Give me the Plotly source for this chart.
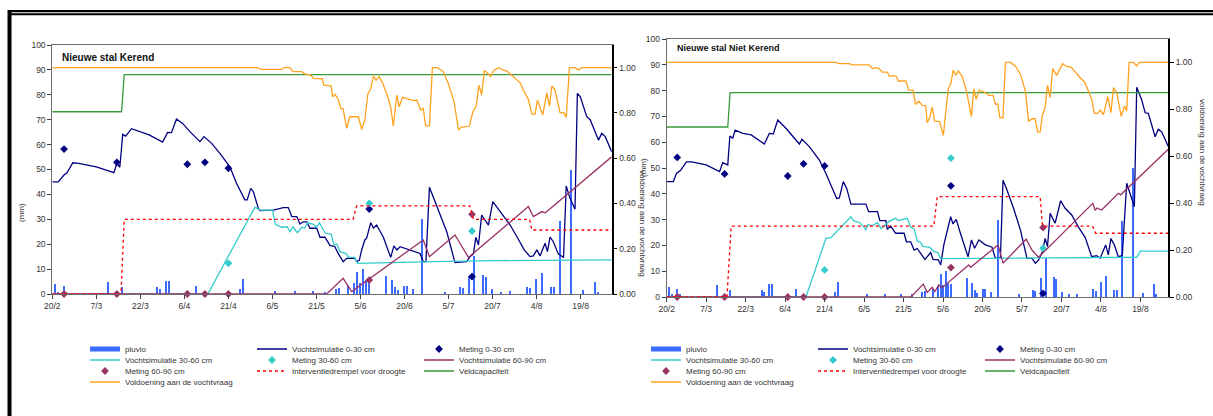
import plotly.graph_objects as go

W, H = 1213, 416
FONT = "Liberation Sans, Arial, sans-serif"
TXT = "#333333"

# ---------------------------------------------------------------
# Time axis: days since 20 February, labelled every 15 days
# ---------------------------------------------------------------
tick_dagen = [0, 15, 30, 45, 60, 75, 90, 105, 120, 135, 150, 165, 180]
tick_labels = ["20/2", "7/3", "22/3", "6/4", "21/4", "6/5", "21/5",
               "5/6", "20/6", "5/7", "20/7", "4/8", "19/8"]
laatste_dag = 190.6

# Rainfall (mm), shared by both fields: (day, mm)
pluvio = [(1, 4.0), (2, 1.0), (4, 3.2), (5, 1.0), (19, 4.7), (24, 2.9), (36, 2.7),
          (37, 1.9), (39, 5.2), (40, 5.2), (49, 3.2), (64, 1.9), (65, 6.0), (76, 1.3),
          (83, 1.1), (89, 1.1), (93, 1.0), (97, 1.9), (98, 2.3), (101, 3.2), (103, 4.3),
          (104, 9.0), (105, 4.5), (106, 10.2), (107, 5.6), (108, 4.9), (114, 7.2),
          (116, 5.6), (117, 2.7), (118, 1.6), (120, 3.2), (121, 3.2), (123, 1.9),
          (126, 30.0), (134, 1.0), (139, 2.8), (140, 2.5), (142, 7.4), (144, 15.2),
          (147, 7.6), (148, 6.8), (150, 1.9), (153, 1.0), (156, 1.3), (162, 3.0),
          (163, 2.3), (165, 6.0), (167, 8.3), (170, 2.7), (171, 2.7), (173, 29.5),
          (177, 49.9), (181, 1.7), (185, 5.0), (186, 1.0)]

# Measurement days and measured moisture (mm)
meet_dagen = [4, 22, 46, 52, 60, 108, 143]

# ---------------------------------------------------------------
# Nieuwe stal Kerend
# ---------------------------------------------------------------
kerend_0_30 = [(0, 45.0), (2, 45.0), (4, 47.8), (5, 48.7), (7, 52.7), (9, 52.5), (15, 51.1),
               (21, 48.7), (22, 52.5), (23, 50.9), (24, 64.1), (25, 63.4), (27, 66.4),
               (29, 65.5), (33, 63.9), (37.6, 61.0), (39.3, 64.9), (40.6, 64.8), (42.3, 70.3),
               (44.4, 68.5), (46.9, 65.2), (50.3, 61.2), (51.7, 63.2), (54.3, 60.5),
               (57.1, 56.5), (60.5, 51.1), (62.8, 44.4), (65.6, 37.8), (66.4, 37.8),
               (67.6, 42.4), (68.5, 41.1), (70.2, 34.4), (70.7, 33.5), (75.3, 33.7),
               (78.7, 34.7), (80.4, 34.7), (81.6, 31.1), (83.3, 31.1), (84.4, 28.1),
               (85.5, 29.0), (86.7, 29.0), (87.8, 26.4), (90.1, 26.4), (91.2, 22.8),
               (92.9, 22.8), (94.6, 19.5), (96.3, 19.0), (97.4, 16.3), (99.1, 13.0),
               (100.3, 14.3), (103.1, 14.3), (103.7, 13.0), (104.6, 13.5), (105.4, 17.7),
               (106.5, 21.7), (107.1, 22.4), (108.5, 28.6), (109.4, 26.4), (110.5, 27.7),
               (112.8, 22.8), (114.1, 19.0), (115.3, 14.7), (116.4, 19.3), (117.4, 17.7),
               (118.5, 19.0), (121.9, 17.7), (123.6, 17.0), (125.3, 16.3), (126.4, 13.0),
               (127.3, 13.0), (128.5, 42.9), (129.8, 39.1), (132.1, 32.4), (134.4, 25.0),
               (137.2, 12.6), (141.2, 13.0), (142.3, 15.0), (143.5, 16.1), (144.3, 22.8),
               (145.2, 19.7), (146.3, 31.7), (147.5, 29.7), (148.6, 27.7), (150.1, 37.1),
               (151.5, 34.8), (153.7, 31.1), (156.0, 27.7), (158.3, 23.0), (160.8, 17.7),
               (162.8, 15.0), (163.9, 15.3), (165.1, 17.7), (166.2, 15.3), (167.9, 20.4),
               (168.7, 17.0), (169.6, 22.8), (170.7, 21.0), (172.4, 16.1), (174.2, 14.7),
               (175.1, 43.4), (176.4, 38.4), (178.1, 34.0), (178.9, 80.6), (179.9, 79.2),
               (182.1, 71.2), (183.3, 69.9), (186.1, 61.8), (187.2, 64.5), (188.4, 63.2),
               (190.6, 57.1)]
kerend_30_60 = [(0, 0.0), (53, 0.0), (69, 34.8), (71, 33.7), (75, 33.7), (76, 28.0), (78, 26.8),
                (80, 27.0), (81, 25.0), (82, 27.0), (83.5, 24.6), (85, 26.8), (86, 26.5),
                (87, 28.6), (89, 28.0), (90, 26.8), (91, 28.6), (93, 24.4), (95, 24.1),
                (96, 19.7), (97, 20.0), (98, 17.0), (100, 16.3), (101, 14.7), (103, 14.7),
                (104, 12.3), (130, 13.0), (150, 13.4), (190.6, 13.7)]
kerend_60_90 = [(0, 0.0), (93.5, 0.0), (99.1, 6.3), (102, 1.0), (126.4, 21.7), (128.5, 15.0),
                (137.2, 23.7), (141.8, 14.7), (162.2, 35.1), (163.9, 31.1), (166.8, 33.1),
                (168, 32.6), (190.6, 55.1)]
kerend_drempel = [(0, 0.0), (23.4, 0.0), (24.5, 30.0), (102.5, 30.0), (103.7, 35.4),
                  (142.3, 35.4), (143.5, 30.0), (162.6, 30.0), (163.4, 25.7), (190.6, 25.7)]
kerend_veldcap = [(0, 73.2), (23.6, 73.2), (24.5, 88.1), (190.6, 88.1)]
kerend_voldoening = [(0, 1.0), (70, 1.0), (71, 0.992), (78, 0.992), (79, 1.0), (81, 1.0),
                     (82, 0.982), (85, 0.982), (86, 0.972), (88, 0.967), (89, 0.953), (92, 0.951),
                     (92.5, 0.923), (95, 0.92), (95.5, 0.871), (96.3, 0.882), (97.4, 0.861),
                     (98.3, 0.82), (99.1, 0.818), (100.3, 0.732), (101.4, 0.783), (104.3, 0.783),
                     (105.4, 0.727), (106.5, 0.769), (107.5, 0.883), (108.5, 0.908),
                     (109.4, 0.963), (110.3, 0.945), (111.4, 0.96), (112.6, 0.931),
                     (114.5, 0.864), (115.3, 0.825), (116.2, 0.742), (117.4, 0.879),
                     (118.2, 0.827), (119.3, 0.869), (121.3, 0.861), (123, 0.854),
                     (124.2, 0.857), (125.5, 0.813), (126.4, 0.82), (127.2, 0.743),
                     (128.5, 0.743), (129.5, 1.0), (131.2, 1.0), (133.2, 0.982), (134.9, 0.931),
                     (136.9, 0.849), (138.4, 0.724), (139.3, 0.736), (142.1, 0.742),
                     (143.3, 0.805), (144.4, 0.83), (145.4, 0.923), (146.3, 0.879),
                     (147.2, 0.986), (148.2, 0.977), (149.4, 0.96), (150.3, 0.986), (152, 1.0),
                     (153.7, 0.989), (154.9, 0.985), (157.1, 0.96), (159.4, 0.933),
                     (160.5, 0.901), (162.2, 0.86), (163.4, 0.795), (164.5, 0.795),
                     (165.3, 0.857), (166.2, 0.82), (167.1, 0.791), (168.5, 0.889),
                     (169.4, 0.83), (170.2, 0.919), (171.3, 0.901), (173, 0.801), (174.2, 0.801),
                     (175.1, 0.78), (176.2, 1.0), (178.1, 1.0), (179.3, 0.99), (180.4, 1.0),
                     (190.6, 1.0)]
kerend_meting_0_30 = [58.2, 52.9, 52.1, 52.9, 50.5, 34.1, 7.0]
kerend_meting_30_60 = [None, None, None, None, 12.3, 36.4, 25.3]
kerend_meting_60_90 = [0.0, 0.0, 0.0, 0.0, 0.0, 5.6, 32.0]

# ---------------------------------------------------------------
# Nieuwe stal Niet Kerend
# ---------------------------------------------------------------
niet_0_30 = [(0, 44.7), (2.5, 44.7), (3.7, 47.9), (5.2, 49.0), (7.5, 52.4), (9.5, 52.4),
             (15, 51.2), (20.1, 48.6), (21.3, 52.1), (23.2, 51.2), (24, 62.4), (25.1, 61.6),
             (26, 64.7), (28.9, 63.4), (32.1, 62.8), (37.1, 59.3), (39, 63.4), (40.5, 63.2),
             (42.2, 68.6), (45.3, 65.4), (50.4, 59.3), (51.4, 61.1), (54.2, 58.3), (58, 53.1),
             (60.5, 47.9), (63.1, 41.5), (64.6, 38.2), (65.6, 38.4), (67.1, 44.7),
             (68.4, 42.1), (70, 36.0), (75.7, 36.0), (76.7, 33.1), (80.1, 33.1), (81, 29.6),
             (83.3, 29.6), (83.8, 26.2), (85.1, 27.5), (87, 24.7), (90.2, 24.7), (91.1, 21.4),
             (92.7, 21.4), (94, 18.2), (95.2, 18.8), (96.5, 16.7), (98.1, 14.6),
             (100.3, 17.2), (101.2, 14.6), (103.2, 14.4), (104.1, 12.4), (105.3, 20.2),
             (106.6, 25.3), (107.9, 31.1), (108.8, 28.3), (110, 30.1), (111.6, 24.7),
             (113.3, 19.5), (114.5, 15.6), (115.8, 22.1), (117, 18.9), (118.6, 22.1),
             (121.1, 20.2), (123.6, 19.3), (124.9, 15.0), (126.8, 15.2), (127.8, 45.3),
             (129.3, 41.5), (131.8, 34.4), (134.4, 26.0), (136.9, 15.0), (138.8, 15.0),
             (140.1, 13.1), (141.3, 14.3), (142.8, 17.6), (143.8, 22.7), (144.7, 19.5),
             (145.7, 32.4), (147.6, 28.6), (149.7, 37.3), (151.4, 34.4), (153.9, 31.8),
             (156.4, 27.2), (159, 23.1), (161.5, 15.6), (163.4, 16.0), (164.7, 15.0),
             (166.8, 20.2), (167.8, 16.3), (168.8, 22.7), (170.1, 20.2), (171.6, 15.6),
             (173.1, 16.0), (174.8, 44.1), (176.4, 38.9), (177.7, 35.0), (178.6, 81.3),
             (180.5, 76.4), (181.8, 71.4), (183, 71.2), (185.6, 62.1), (186.8, 65.0),
             (188.1, 64.0), (190.6, 58.3)]
niet_30_60 = [(0, 0.0), (52.9, 0.0), (60.5, 22.7), (62.4, 23.0), (70, 31.1), (71, 29.5),
              (73.5, 28.8), (75.7, 26.0), (76.5, 28.2), (78, 27.6), (80.1, 28.8), (81.5, 26.5),
              (84.5, 29.3), (87, 30.5), (88, 29.6), (89.5, 30.1), (91.4, 30.5), (92.7, 27.0),
              (94, 26.5), (95.2, 21.7), (96.5, 21.2), (97.3, 19.6), (100, 19.2), (101.5, 17.7),
              (103, 17.2), (104.1, 14.9), (126, 15.0), (178.6, 15.4), (180, 17.8),
              (190.6, 17.8)]
niet_60_90 = [(0, 0.0), (92.8, 0.0), (97.5, 5.0), (99, 1.8), (100.9, 3.8), (101.9, 2.1),
              (103.4, 4.7), (104.5, 3.5), (114.8, 12.4), (115.5, 11.5), (125.9, 20.2),
              (127.8, 13.1), (136.6, 22.4), (138.8, 18.2), (141.3, 15.4), (161.9, 36.3),
              (162.8, 33.6), (163.5, 34.5), (165.3, 33.7), (171.6, 40.2), (172.5, 39.6),
              (190.6, 57.3)]
niet_drempel = [(0, 0.0), (22.9, 0.0), (24.5, 27.5), (101.5, 27.5), (102.8, 38.9),
                (141.9, 38.9), (142.8, 27.5), (161.8, 27.5), (163, 24.7), (190.6, 24.7)]
niet_veldcap = [(0, 65.9), (23.2, 65.9), (24.1, 79.2), (190.6, 79.2)]
niet_voldoening = [(0, 1.0), (64.3, 1.0), (65.5, 0.995), (69.3, 0.995), (70.6, 0.99),
                   (76.9, 0.99), (78.2, 0.974), (79.5, 0.978), (80.7, 0.974), (81.9, 0.959),
                   (83.8, 0.959), (84.7, 0.94), (86, 0.945), (87.3, 0.94), (88, 0.921),
                   (90.9, 0.921), (92, 0.882), (93.6, 0.882), (94.5, 0.821), (95.8, 0.835),
                   (97.1, 0.817), (98.4, 0.815), (99, 0.743), (99.9, 0.764), (100.9, 0.81),
                   (101.8, 0.75), (103.7, 0.748), (105.1, 0.689), (107, 0.888), (107.9, 0.907),
                   (108.9, 0.968), (109.8, 0.945), (110.8, 0.964), (112.3, 0.94),
                   (113.9, 0.878), (114.8, 0.828), (115.8, 0.769), (116.7, 0.888),
                   (117.6, 0.843), (118.7, 0.882), (120.6, 0.874), (122.5, 0.86), (124, 0.86),
                   (124.9, 0.821), (125.8, 0.824), (126.6, 0.764), (127.8, 0.764), (128.7, 1.0),
                   (130.6, 1.0), (132.5, 0.985), (134.4, 0.95), (136.3, 0.878), (137.5, 0.75),
                   (139, 0.76), (140, 0.76), (141, 0.703), (141.9, 0.703), (142.8, 0.778),
                   (143.8, 0.807), (144.7, 0.903), (145.7, 0.85), (146.7, 0.974),
                   (148.2, 0.945), (150.4, 0.995), (152, 0.983), (153.7, 0.98), (155.2, 0.959),
                   (157.1, 0.935), (158.8, 0.917), (160.3, 0.878), (161.5, 0.843),
                   (162.5, 0.783), (163.8, 0.783), (164.7, 0.797), (166, 0.778), (167.6, 0.854),
                   (168.8, 0.786), (169.8, 0.893), (171, 0.871), (172.7, 0.771), (174, 0.814),
                   (174.8, 0.793), (175.7, 1.0), (177.4, 1.0), (178.6, 0.985), (179.5, 1.0),
                   (190.6, 1.0)]
niet_meting_0_30 = [54.1, 47.7, 46.9, 51.6, 50.8, 43.1, 1.4]
niet_meting_30_60 = [None, None, None, None, 10.5, 53.8, 18.9]
niet_meting_60_90 = [0.0, 0.0, 0.0, 0.0, 0.0, 11.4, 26.9]

# ---------------------------------------------------------------
# Styling
# ---------------------------------------------------------------
C_PLUVIO = "#3D6BFF"
C_0_30 = "#000080"
C_30_60 = "#33CCCC"
C_60_90 = "#993366"
C_DREMPEL = "#FF0000"
C_VELDCAP = "#3A9A3A"
C_VOLDOEN = "#FFA21F"


def px(x):
    return x / W


def py(y):
    return 1 - y / H


def unzip(pairs):
    return [p[0] for p in pairs], [p[1] for p in pairs]


fig = go.Figure()

panels = [
    dict(xa="x", ya="y", ya2="y2", legends=["legend", "legend2", "legend3", "legend4"],
         v0=kerend_0_30, v30=kerend_30_60, v60=kerend_60_90, dr=kerend_drempel,
         vc=kerend_veldcap, vd=kerend_voldoening,
         m0=kerend_meting_0_30, m30=kerend_meting_30_60, m60=kerend_meting_60_90),
    dict(xa="x2", ya="y3", ya2="y4", legends=["legend5", "legend6", "legend7", "legend8"],
         v0=niet_0_30, v30=niet_30_60, v60=niet_60_90, dr=niet_drempel,
         vc=niet_veldcap, vd=niet_voldoening,
         m0=niet_meting_0_30, m30=niet_meting_30_60, m60=niet_meting_60_90),
]

for p in panels:
    lg = p["legends"]
    xa, ya, ya2 = p["xa"], p["ya"], p["ya2"]
    pd_, pv = unzip(pluvio)
    # row 1 -- rainfall bars, with a broad swatch as their legend key
    fig.add_trace(go.Bar(x=pd_, y=pv, width=0.5, marker=dict(color=C_PLUVIO, line=dict(width=0)),
                         name="pluvio", xaxis=xa, yaxis=ya, showlegend=False, legendgroup=f"pl{xa}"))
    fig.add_trace(go.Scatter(x=[None], y=[None], mode="lines", line=dict(color=C_PLUVIO, width=5),
                             name="pluvio", xaxis=xa, yaxis=ya, legend=lg[0], legendgroup=f"pl{xa}",
                             hoverinfo="skip"))
    d, v = unzip(p["v0"])
    fig.add_trace(go.Scatter(x=d, y=v, mode="lines", line=dict(color=C_0_30, width=1.3),
                             name="Vochtsimulatie 0-30 cm", xaxis=xa, yaxis=ya, legend=lg[0]))
    fig.add_trace(go.Scatter(x=meet_dagen, y=p["m0"], mode="markers", cliponaxis=False,
                             marker=dict(color=C_0_30, symbol="diamond", size=6),
                             name="Meting 0-30 cm", xaxis=xa, yaxis=ya, legend=lg[0]))
    # row 2
    d, v = unzip(p["v30"])
    fig.add_trace(go.Scatter(x=d, y=v, mode="lines", line=dict(color=C_30_60, width=1.3),
                             name="Vochtsimulatie 30-60 cm", xaxis=xa, yaxis=ya, legend=lg[1]))
    fig.add_trace(go.Scatter(x=meet_dagen, y=p["m30"], mode="markers", cliponaxis=False,
                             marker=dict(color=C_30_60, symbol="diamond", size=6),
                             name="Meting 30-60 cm", xaxis=xa, yaxis=ya, legend=lg[1]))
    d, v = unzip(p["v60"])
    fig.add_trace(go.Scatter(x=d, y=v, mode="lines", line=dict(color=C_60_90, width=1.3),
                             name="Vochtsimulatie 60-90 cm", xaxis=xa, yaxis=ya, legend=lg[1]))
    # row 3
    fig.add_trace(go.Scatter(x=meet_dagen, y=p["m60"], mode="markers", cliponaxis=False,
                             marker=dict(color=C_60_90, symbol="diamond", size=6),
                             name="Meting 60-90 cm", xaxis=xa, yaxis=ya, legend=lg[2]))
    d, v = unzip(p["dr"])
    fig.add_trace(go.Scatter(x=d, y=v, mode="lines", line=dict(color=C_DREMPEL, width=1.3, dash="dot"),
                             name="Interventiedrempel voor droogte", xaxis=xa, yaxis=ya, legend=lg[2]))
    d, v = unzip(p["vc"])
    fig.add_trace(go.Scatter(x=d, y=v, mode="lines", line=dict(color=C_VELDCAP, width=1.3),
                             name="Veldcapaciteit", xaxis=xa, yaxis=ya, legend=lg[2]))
    # row 4
    d, v = unzip(p["vd"])
    fig.add_trace(go.Scatter(x=d, y=v, mode="lines", line=dict(color=C_VOLDOEN, width=1.3),
                             name="Voldoening aan de vochtvraag", xaxis=xa, yaxis=ya2, legend=lg[3]))

# ---------------------------------------------------------------
# Axes
# ---------------------------------------------------------------
tickfont = dict(family=FONT, size=8.5, color=TXT)
xcommon = dict(range=[0, laatste_dag], tickmode="array", tickvals=tick_dagen, ticktext=tick_labels,
               ticks="outside", ticklen=4, tickcolor="#404040", showline=True, linecolor="#6e6e6e",
               linewidth=1, mirror=True, showgrid=False, zeroline=False, tickfont=tickfont,
               fixedrange=True)
ycommon = dict(range=[0, 100], tickmode="array", tickvals=list(range(0, 101, 10)),
               ticks="outside", ticklen=4, tickcolor="#404040", showline=True, linecolor="#6e6e6e",
               linewidth=1, showgrid=False, zeroline=False, tickfont=tickfont, fixedrange=True)
y2common = dict(range=[0, 1.1], tickmode="array", tickvals=[0, 0.2, 0.4, 0.6, 0.8, 1.0],
                tickformat=".2f", side="right", ticks="outside", ticklen=4, tickcolor="#000000",
                showline=True, linecolor="#000000", linewidth=1.5, showgrid=False, zeroline=False,
                tickfont=tickfont, fixedrange=True)

fig.update_layout(
    xaxis=dict(domain=[px(52.3), px(611.7)], anchor="y", **xcommon),
    yaxis=dict(domain=[py(294), py(45)], anchor="x", **ycommon),
    yaxis2=dict(overlaying="y", anchor="x", **y2common),
    xaxis2=dict(domain=[px(666.7), px(1168.3)], anchor="y3", **xcommon),
    yaxis3=dict(domain=[py(297), py(39)], anchor="x2", **ycommon),
    yaxis4=dict(overlaying="y3", anchor="x2", **y2common),
)

# ---------------------------------------------------------------
# Legends: four rows of three entries under each chart
# ---------------------------------------------------------------
rij_y = [349, 360, 371, 382]
legfont = dict(family=FONT, size=8, color=TXT)
legend_ids = ["legend", "legend2", "legend3", "legend4",
              "legend5", "legend6", "legend7", "legend8"]
for i, ypos in enumerate(rij_y):
    for j, xtxt in enumerate([125, 686]):
        fig.update_layout({legend_ids[j * 4 + i]: dict(
            orientation="h", x=px(xtxt - 40), xanchor="left", y=py(ypos), yanchor="middle",
            entrywidth=122, entrywidthmode="pixels", itemwidth=30, font=legfont,
            bgcolor="rgba(0,0,0,0)", borderwidth=0, tracegroupgap=0, traceorder="normal")})

# ---------------------------------------------------------------
# Titles and axis titles
# ---------------------------------------------------------------
ann = [
    dict(text="<b>Nieuwe stal Kerend</b>", x=px(60), y=py(58), xanchor="left", yanchor="middle",
         font=dict(family=FONT, size=10, color="#111111")),
    dict(text="<b>Nieuwe stal Niet Kerend</b>", x=px(675), y=py(48), xanchor="left", yanchor="middle",
         font=dict(family=FONT, size=9, color="#111111")),
    dict(text="(mm)", x=px(22), y=py(213), textangle=-90, xanchor="center", yanchor="middle",
         font=dict(family=FONT, size=8, color=TXT)),
    dict(text="voldoening aan de vochtvraag", x=px(643), y=py(223), textangle=90,
         xanchor="center", yanchor="middle", font=dict(family=FONT, size=8, color=TXT)),
    dict(text="(mm)", x=px(643), y=py(168), textangle=-90, xanchor="center", yanchor="middle",
         font=dict(family=FONT, size=8, color=TXT)),
    dict(text="voldoening aan de vochtvraag", x=px(1203), y=py(152), textangle=90,
         xanchor="center", yanchor="middle", font=dict(family=FONT, size=8, color=TXT)),
]
for a in ann:
    a.update(xref="paper", yref="paper", showarrow=False)

# Page frame: double rule at the top and a heavy rule on the left
frame = [
    dict(type="rect", x0=px(8), x1=px(1213), y0=py(12.3), y1=py(10)),
    dict(type="rect", x0=px(10), x1=px(1213), y0=py(15.3), y1=py(13.3)),
    dict(type="rect", x0=px(7.5), x1=px(11.5), y0=py(416), y1=py(10)),
]
for s in frame:
    s.update(xref="paper", yref="paper", fillcolor="#000000", line=dict(width=0), layer="above")

fig.update_layout(
    width=W, height=H, autosize=False,
    margin=dict(l=0, r=0, t=0, b=0, autoexpand=False),
    paper_bgcolor="white", plot_bgcolor="white",
    font=dict(family=FONT, size=8, color=TXT),
    annotations=ann, shapes=frame, bargap=0,
)

fig.write_html("out.html")
